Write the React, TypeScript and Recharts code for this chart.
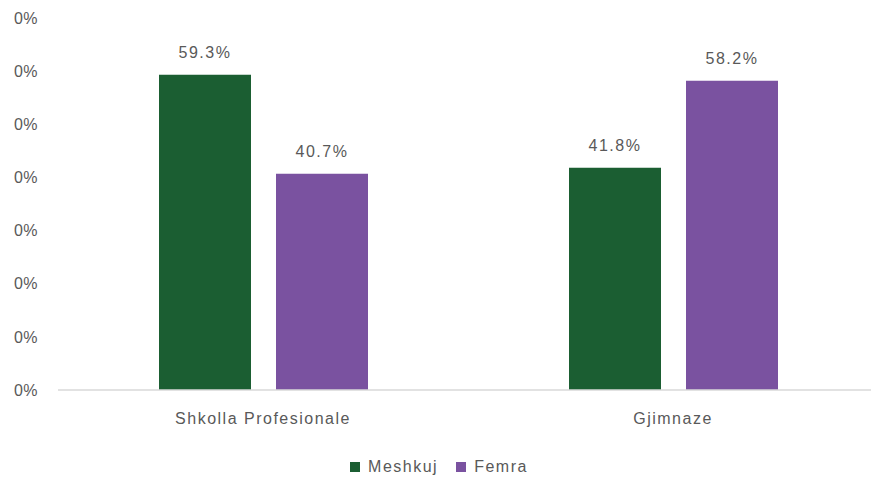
import React from "react";
import { BarChart, Bar, XAxis, YAxis, Legend, LabelList } from "recharts";

const categories = ["Shkolla Profesionale", "Gjimnaze"];
const meshkuj = [59.3, 41.8];
const femra = [40.7, 58.2];
const yTicks = [0, 10, 20, 30, 40, 50, 60, 70];

const data = categories.map((name, i) => ({ name, Meshkuj: meshkuj[i], Femra: femra[i] }));

const FONT = "'Liberation Sans', Arial, sans-serif";
const TEXT = "#595959";
const GREEN = "#1B5E32";
const PURPLE = "#7A52A0";
const LS = 1.5;

const series = [
  { key: "Meshkuj", color: GREEN },
  { key: "Femra", color: PURPLE },
];

function LegendContent() {
  return (
    <div style={{ height: 48, boxSizing: "border-box", paddingTop: 26, display: "flex", justifyContent: "center", alignItems: "center", fontFamily: FONT }}>
      {series.map((s, i) => (
        <div key={s.key} style={{ display: "flex", alignItems: "center", marginLeft: i ? 18 : 0 }}>
          <div style={{ width: 10, height: 10, background: s.color, marginRight: 8 }} />
          <span style={{ color: TEXT, fontSize: 16, letterSpacing: LS, lineHeight: "18px" }}>{s.key}</span>
        </div>
      ))}
    </div>
  );
}

export default function App() {
  return (
    <div style={{ position: "absolute", left: 0, top: 0, width: 871, height: 478, overflow: "hidden", background: "#fff" }}>
      <BarChart
        width={880}
        height={478}
        data={data}
        margin={{ top: 18, right: 2, left: 0, bottom: 0 }}
        barCategoryGap={100}
        barGap={25}
        style={{ fontFamily: FONT }}
      >
        <YAxis
          domain={[0, 70]}
          ticks={yTicks}
          width={58}
          axisLine={false}
          tickLine={false}
          tickSize={0}
          tickMargin={20}
          tickFormatter={(v: number) => `${Math.floor(v / 100)}%`}
          tick={{ fill: TEXT, fontSize: 16, fontFamily: FONT, letterSpacing: 0.5 }}
        />
        <XAxis
          dataKey="name"
          axisLine={{ stroke: "#d9d9d9", strokeWidth: 1.5 }}
          tickLine={false}
          tickSize={0}
          tickMargin={23}
          height={40}
          tick={{ fill: TEXT, fontSize: 16, fontFamily: FONT, letterSpacing: LS }}
        />
        <Legend verticalAlign="bottom" height={48} content={() => <LegendContent />} />
        <Bar dataKey="Meshkuj" fill={GREEN} barSize={92} isAnimationActive={false}>
          <LabelList dataKey="Meshkuj" position="top" offset={17} formatter={(v: number) => `${v.toFixed(1)}%`} fill={TEXT} fontSize={16} fontFamily={FONT} letterSpacing={LS} />
        </Bar>
        <Bar dataKey="Femra" fill={PURPLE} barSize={92} isAnimationActive={false}>
          <LabelList dataKey="Femra" position="top" offset={17} formatter={(v: number) => `${v.toFixed(1)}%`} fill={TEXT} fontSize={16} fontFamily={FONT} letterSpacing={LS} />
        </Bar>
      </BarChart>
    </div>
  );
}
